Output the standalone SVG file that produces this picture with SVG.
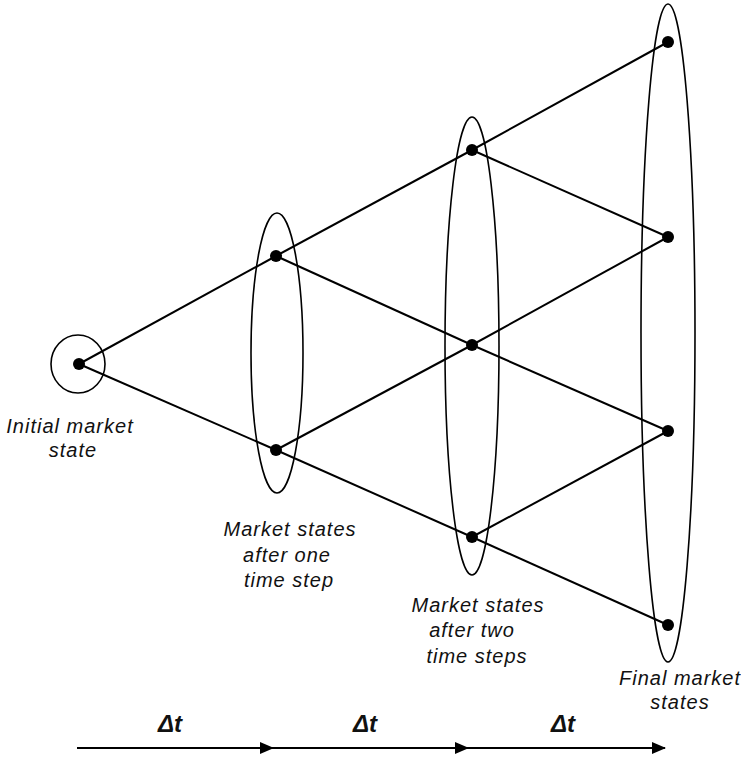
<svg xmlns="http://www.w3.org/2000/svg" width="741" height="759" viewBox="0 0 741 759">
<style>
.ell{fill:none;stroke:#000;stroke-width:1.6}
.dot{fill:#000}
.edge{stroke:#000;stroke-width:2;fill:none}
.lbl{font-family:"Liberation Sans",Arial,sans-serif;font-style:italic;font-size:20px;letter-spacing:1px;fill:#111;text-anchor:middle}
.dt{font-family:"Liberation Sans",Arial,sans-serif;font-style:italic;font-weight:bold;font-size:24px;fill:#111;text-anchor:middle}
</style>
<defs>
<marker id="ah" markerWidth="14" markerHeight="12" refX="13" refY="6" orient="auto" markerUnits="userSpaceOnUse">
<path d="M0,0 L14,6 L0,12 Z" fill="#000"/>
</marker>
</defs>
<rect width="741" height="759" fill="#fff"/>
<g id="connectors">
<line class="edge" x1="79" y1="364" x2="276" y2="256"/>
<line class="edge" x1="79" y1="364" x2="276" y2="450"/>
<line class="edge" x1="276" y1="256" x2="472" y2="150"/>
<line class="edge" x1="276" y1="256" x2="472" y2="345"/>
<line class="edge" x1="276" y1="450" x2="472" y2="345"/>
<line class="edge" x1="276" y1="450" x2="472" y2="537"/>
<line class="edge" x1="472" y1="150" x2="668" y2="42"/>
<line class="edge" x1="472" y1="150" x2="668" y2="237"/>
<line class="edge" x1="472" y1="345" x2="668" y2="237"/>
<line class="edge" x1="472" y1="345" x2="668" y2="431"/>
<line class="edge" x1="472" y1="537" x2="668" y2="431"/>
<line class="edge" x1="472" y1="537" x2="668" y2="625"/>
</g>
<g id="group-initial">
<ellipse class="ell" cx="78" cy="364" rx="27" ry="29"/>
<text class="lbl"><tspan x="70" y="433">Initial market</tspan><tspan x="73" y="457">state</tspan></text>
</g>
<g id="group-step1">
<ellipse class="ell" cx="277" cy="353" rx="26" ry="140"/>
<text class="lbl"><tspan x="290" y="536">Market states</tspan><tspan x="287" y="562">after one</tspan><tspan x="289" y="587">time step</tspan></text>
</g>
<g id="group-step2">
<ellipse class="ell" cx="472" cy="346" rx="27" ry="229"/>
<text class="lbl"><tspan x="478" y="612">Market states</tspan><tspan x="472" y="637">after two</tspan><tspan x="477" y="663">time steps</tspan></text>
</g>
<g id="group-final">
<ellipse class="ell" cx="668" cy="333" rx="27" ry="329"/>
<text class="lbl"><tspan x="680" y="685">Final market</tspan><tspan x="680" y="709">states</tspan></text>
</g>
<g id="n0"><circle class="dot" cx="79" cy="364" r="6"/></g>
<g id="n1a"><circle class="dot" cx="276" cy="256" r="6"/></g>
<g id="n1b"><circle class="dot" cx="276" cy="450" r="6"/></g>
<g id="n2a"><circle class="dot" cx="472" cy="150" r="6"/></g>
<g id="n2b"><circle class="dot" cx="472" cy="345" r="6"/></g>
<g id="n2c"><circle class="dot" cx="472" cy="537" r="6"/></g>
<g id="n3a"><circle class="dot" cx="668" cy="42" r="6"/></g>
<g id="n3b"><circle class="dot" cx="668" cy="237" r="6"/></g>
<g id="n3c"><circle class="dot" cx="668" cy="431" r="6"/></g>
<g id="n3d"><circle class="dot" cx="668" cy="625" r="6"/></g>
<g id="timeline">
<line class="edge" x1="77" y1="748" x2="273" y2="748" marker-end="url(#ah)"/>
<line class="edge" x1="273" y1="748" x2="468" y2="748" marker-end="url(#ah)"/>
<line class="edge" x1="468" y1="748" x2="665" y2="748" marker-end="url(#ah)"/>
<text class="dt" x="170" y="732">Δt</text>
<text class="dt" x="365" y="732">Δt</text>
<text class="dt" x="563" y="732">Δt</text>
</g>
</svg>
